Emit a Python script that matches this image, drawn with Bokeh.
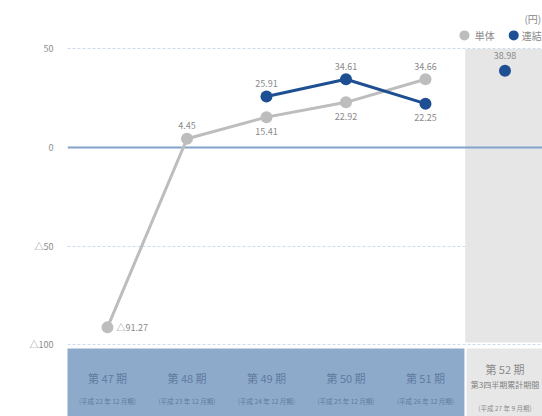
from bokeh.plotting import figure
from bokeh.models import Range1d, FixedTicker, ColumnDataSource
from bokeh.core.properties import value
from bokeh.embed import file_html
from bokeh.resources import INLINE

# ---- data ----
periods = ["第 47 期", "第 48 期", "第 49 期", "第 50 期", "第 51 期", "第 52 期"]
period_notes = ["(平成 22 年 12 月期)", "(平成 23 年 12 月期)", "(平成 24 年 12 月期)",
                "(平成 25 年 12 月期)", "(平成 26 年 12 月期)", "(平成 27 年 9 月期)"]
period52_sub = "第3四半期累計期間"
tantai_idx = [0, 1, 2, 3, 4]
tantai_vals = [-91.27, 4.45, 15.41, 22.92, 34.66]
renketsu_idx = [2, 3, 4]
renketsu_vals = [25.91, 34.61, 22.25]
renketsu_q3_idx = [5]
renketsu_q3_vals = [38.98]
y_ticks = [-100, -50, 0, 50]
unit_label = "(円)"
legend_names = ["単体", "連結"]

FONT = "Noto Sans CJK JP"
GRAY = "#bdbdbd"
BLUE = "#1f4f93"
LABEL_C = "#8a8a8a"
CAT_C = "#5f7aa0"

def fmt(v):
    return ("△" if v < 0 else "") + f"{abs(v):.2f}"

p = figure(width=542, height=416, output_backend="svg", toolbar_location=None,
           x_range=Range1d(-0.503, 5.472), y_range=Range1d(-136.5, 74.6),
           x_axis_location=None, min_border_left=67, min_border_right=0,
           min_border_top=0, min_border_bottom=0)
p.outline_line_color = None
p.xgrid.visible = False
p.ygrid.visible = False

ax = p.yaxis[0]
ax.ticker = FixedTicker(ticks=y_ticks)
ax.major_label_overrides = {t: (("△" + str(abs(t))) if t < 0 else str(t)) for t in y_ticks}
ax.axis_line_color = None
ax.major_tick_line_color = None
ax.minor_tick_line_color = None
ax.major_label_standoff = 8
ax.major_label_text_font = FONT
ax.major_label_text_font_size = "9px"
ax.major_label_text_color = "#8c8c8c"

# dashed grid lines
p.hspan(y=[t for t in y_ticks if t != 0], line_color="#cfdbeb", line_width=1, line_dash="3 2")

# category band (blue) and forecast column (gray)
p.quad(left=[-0.6], right=[4.49], bottom=[-140], top=[-102.0], fill_color="#8eaacb", line_color=None)
p.quad(left=[4.516], right=[6], bottom=[-140], top=[-102.0], fill_color="#e7e7e7", line_color=None)
p.quad(left=[4.5], right=[6], bottom=[-99], top=[50], fill_color="#e6e6e6", line_color=None)

# zero line
p.hspan(y=[0], line_color="#84a2cc", line_width=2)

# series
p.line(tantai_idx, tantai_vals, line_color=GRAY, line_width=3)
p.scatter(tantai_idx, tantai_vals, size=12, fill_color=GRAY, line_color=None)
p.line(renketsu_idx, renketsu_vals, line_color=BLUE, line_width=3)
p.scatter(renketsu_idx, renketsu_vals, size=12, fill_color=BLUE, line_color=None)
p.scatter(renketsu_q3_idx, renketsu_q3_vals, size=12, fill_color=BLUE, line_color=None)

# value labels
def vlabels(xs, vs, offsets, align="center", xoff=0, baseline="middle"):
    src = ColumnDataSource(dict(x=xs, y=vs, t=[fmt(v) for v in vs], yo=offsets))
    p.text(x="x", y="y", text="t", y_offset="yo", x_offset=xoff, source=src,
           text_font=value(FONT), text_font_size="9px", text_color=LABEL_C,
           text_align=align, text_baseline=baseline)

vlabels([tantai_idx[0]], [tantai_vals[0]], [0], align="left", xoff=9)
vlabels(tantai_idx[1:], tantai_vals[1:], [-13, 14, 14, -13])
vlabels(renketsu_idx, renketsu_vals, [-13, -13, 14])
vlabels(renketsu_q3_idx, renketsu_q3_vals, [-15])

# category labels
cat_src = ColumnDataSource(dict(x=list(range(5)), t=periods[:5], n=period_notes[:5]))
p.text(x="x", y=-116.8, text="t", source=cat_src, text_font=value(FONT),
       text_font_size="11px", text_color=CAT_C, text_align="center", text_baseline="middle")
p.text(x="x", y=-128.6, text="n", source=cat_src, text_font=value(FONT),
       text_font_size="6.5px", text_color=CAT_C, text_align="center", text_baseline="middle")
p.text(x=[5], y=[-112.2], text=[periods[5]], text_font=value(FONT), text_font_size="11px",
       text_color="#8a8a8a", text_align="center", text_baseline="middle")
p.text(x=[5], y=[-120.4], text=[period52_sub], text_font=value(FONT), text_font_size="8px",
       text_color="#808080", text_align="center", text_baseline="middle")
p.text(x=[5], y=[-132.0], text=[period_notes[5]], text_font=value(FONT), text_font_size="6.5px",
       text_color="#8a8a8a", text_align="center", text_baseline="middle")

# legend and unit
p.scatter([4.49], [56.9], size=10, fill_color=GRAY, line_color=None)
p.text(x=[4.62], y=[56.9], text=[legend_names[0]], text_font=value(FONT), text_font_size="10px",
       text_color="#8a8a8a", text_align="left", text_baseline="middle")
p.scatter([5.11], [56.9], size=10, fill_color=BLUE, line_color=None)
p.text(x=[5.21], y=[56.9], text=[legend_names[1]], text_font=value(FONT), text_font_size="10px",
       text_color="#8a8a8a", text_align="left", text_baseline="middle")
p.text(x=[5.245], y=[65.5], text=[unit_label], text_font=value(FONT), text_font_size="10px",
       text_color="#8a8a8a", text_align="left", text_baseline="middle")

open("out.html", "w").write(file_html(p, INLINE))
